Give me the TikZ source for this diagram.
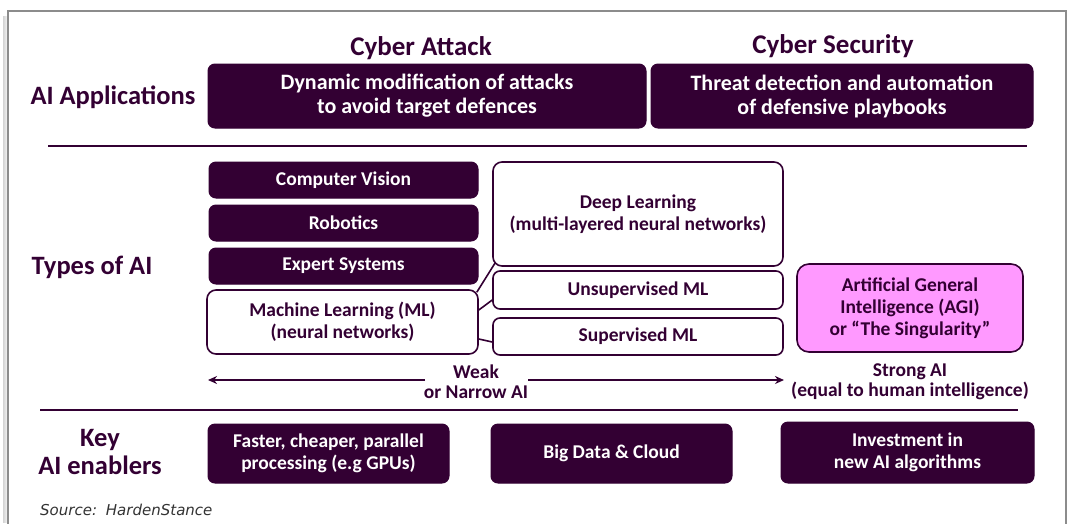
\documentclass[tikz,border=0pt]{standalone}
\usepackage{fontspec}
\setmainfont{Carlito}
\newfontfamily\srcfont{DejaVu Sans}
\usetikzlibrary{arrows.meta,calc}
\definecolor{dpurple}{HTML}{330033}
\definecolor{agipink}{HTML}{FF99FF}
\definecolor{framegray}{HTML}{8C8C8C}
\tikzset{
  darkbox/.style={draw=dpurple, fill=dpurple, rounded corners=7pt, text=white, font=\bfseries\fontsize{19.5}{22}\selectfont, align=center, inner sep=0pt, line width=1pt},
  bigdark/.style={darkbox, font=\bfseries\fontsize{22}{24}\selectfont},
  lightbox/.style={draw=dpurple, fill=white, rounded corners=9pt, text=dpurple, font=\bfseries\fontsize{19.5}{22}\selectfont, align=center, inner sep=0pt, line width=1.6pt},
  agibox/.style={lightbox, fill=agipink},
  rowlabel/.style={text=dpurple, font=\bfseries\fontsize{26.5}{28}\selectfont, align=center, inner sep=0pt},
  collabel/.style={text=dpurple, font=\bfseries\fontsize{27}{30}\selectfont, inner sep=0pt},
  midlabel/.style={text=dpurple, font=\bfseries\fontsize{19.5}{20}\selectfont, align=center, inner sep=0pt},
  sepline/.style={draw=dpurple, line width=2.2pt},
  link/.style={draw=dpurple, line width=1.6pt},
  scalearrow/.style={draw=dpurple, line width=1.8pt, -{Stealth[length=9pt,width=8pt]}},
}
\begin{document}
\begin{tikzpicture}[x=1pt,y=-1pt]
\useasboundingbox (0,0) rectangle (1069,523);
% frame with shadow
\foreach \i/\o in {1/0.05,2/0.08,3/0.11,4/0.14,5/0.17}{
  \fill[black,opacity=\o] (8-\i,16) rectangle (8-\i+1,523);
}
\draw[framegray, line width=2.2pt] (8,530) -- (8,11) -- (1066,11) -- (1066,530);

% column headers
\node[collabel] (hatt) at (421,48) {Cyber Attack};
\node[collabel] (hsec) at (833,46) {Cyber Security};

% row labels
\node[rowlabel] (rapp) at (113,97) {AI Applications};
\node[rowlabel] (rtyp) at (92,267) {Types of AI};
\node[rowlabel] (rkey) at (100,452) {Key\\AI enablers};

% applications
\node[bigdark, minimum width=438pt, minimum height=64pt] (att) at (427,96) {Dynamic modification of attacks\\to avoid target defences};
\node[bigdark, minimum width=382pt, minimum height=64pt] (sec) at (842,96) {Threat detection and automation\\of defensive playbooks};

\draw[sepline] (48,146) -- (1027,146);

% types of AI
\node[darkbox, minimum width=269pt, minimum height=36pt] (cv) at (343.5,180) {Computer Vision};
\node[darkbox, minimum width=269pt, minimum height=36pt] (rob) at (343.5,223) {Robotics};
\node[darkbox, minimum width=269pt, minimum height=36pt] (exp) at (343.5,266) {Expert Systems};
\node[lightbox, minimum width=271pt, minimum height=64pt] (ml) at (342.5,322) {Machine Learning (ML)\\(neural networks)};
\node[lightbox, minimum width=290pt, minimum height=104pt] (dl) at (638,214) {Deep Learning\\(multi-layered neural networks)};
\node[lightbox, minimum width=290pt, minimum height=38pt, rounded corners=7pt] (uns) at (638,290) {Unsupervised ML};
\node[lightbox, minimum width=290pt, minimum height=37pt, rounded corners=7pt] (sup) at (638,336.5) {Supervised ML};
\node[agibox, minimum width=226pt, minimum height=88pt, rounded corners=12pt] (agi) at (910,308) {Artificial General\\Intelligence (AGI)\\or ``The Singularity''};

\draw[link] ([xshift=-2pt,yshift=-3pt]ml.north east) -- ([xshift=3pt,yshift=4pt]dl.south west);
\draw[link] ([yshift=12pt]ml.east) -- ([yshift=-10pt]uns.west);
\draw[link] ([yshift=-17pt]ml.east) -- ([yshift=-5.5pt]sup.west);

% weak / strong scale
\node[midlabel] (weak) at (476,382) {Weak\\or Narrow AI};
\node[midlabel] (strong) at (910,382) {Strong AI\\(equal to human intelligence)};
\coordinate (lstart) at (425,380);
\coordinate (lend) at (208,380);
\coordinate (rstart) at (528,380);
\coordinate (rend) at (784,380);
\draw[scalearrow] (lstart) -- (lend);
\draw[scalearrow] (rstart) -- (rend);

\draw[sepline] (40,410) -- (1018,410);

% enablers
\node[darkbox, minimum width=241pt, minimum height=59pt] (gpu) at (328.5,453.5) {Faster, cheaper, parallel\\processing (e.g GPUs)};
\node[darkbox, minimum width=241pt, minimum height=59pt] (big) at (611.5,453.5) {Big Data \& Cloud};
\node[darkbox, minimum width=253pt, minimum height=61pt] (inv) at (907.5,452.5) {Investment in\\new AI algorithms};

\node[anchor=west, inner sep=0pt, text=black!80, font=\srcfont\itshape\fontsize{15}{18}\selectfont] (src) at (40,510) {Source: \,HardenStance};
\end{tikzpicture}
\end{document}
